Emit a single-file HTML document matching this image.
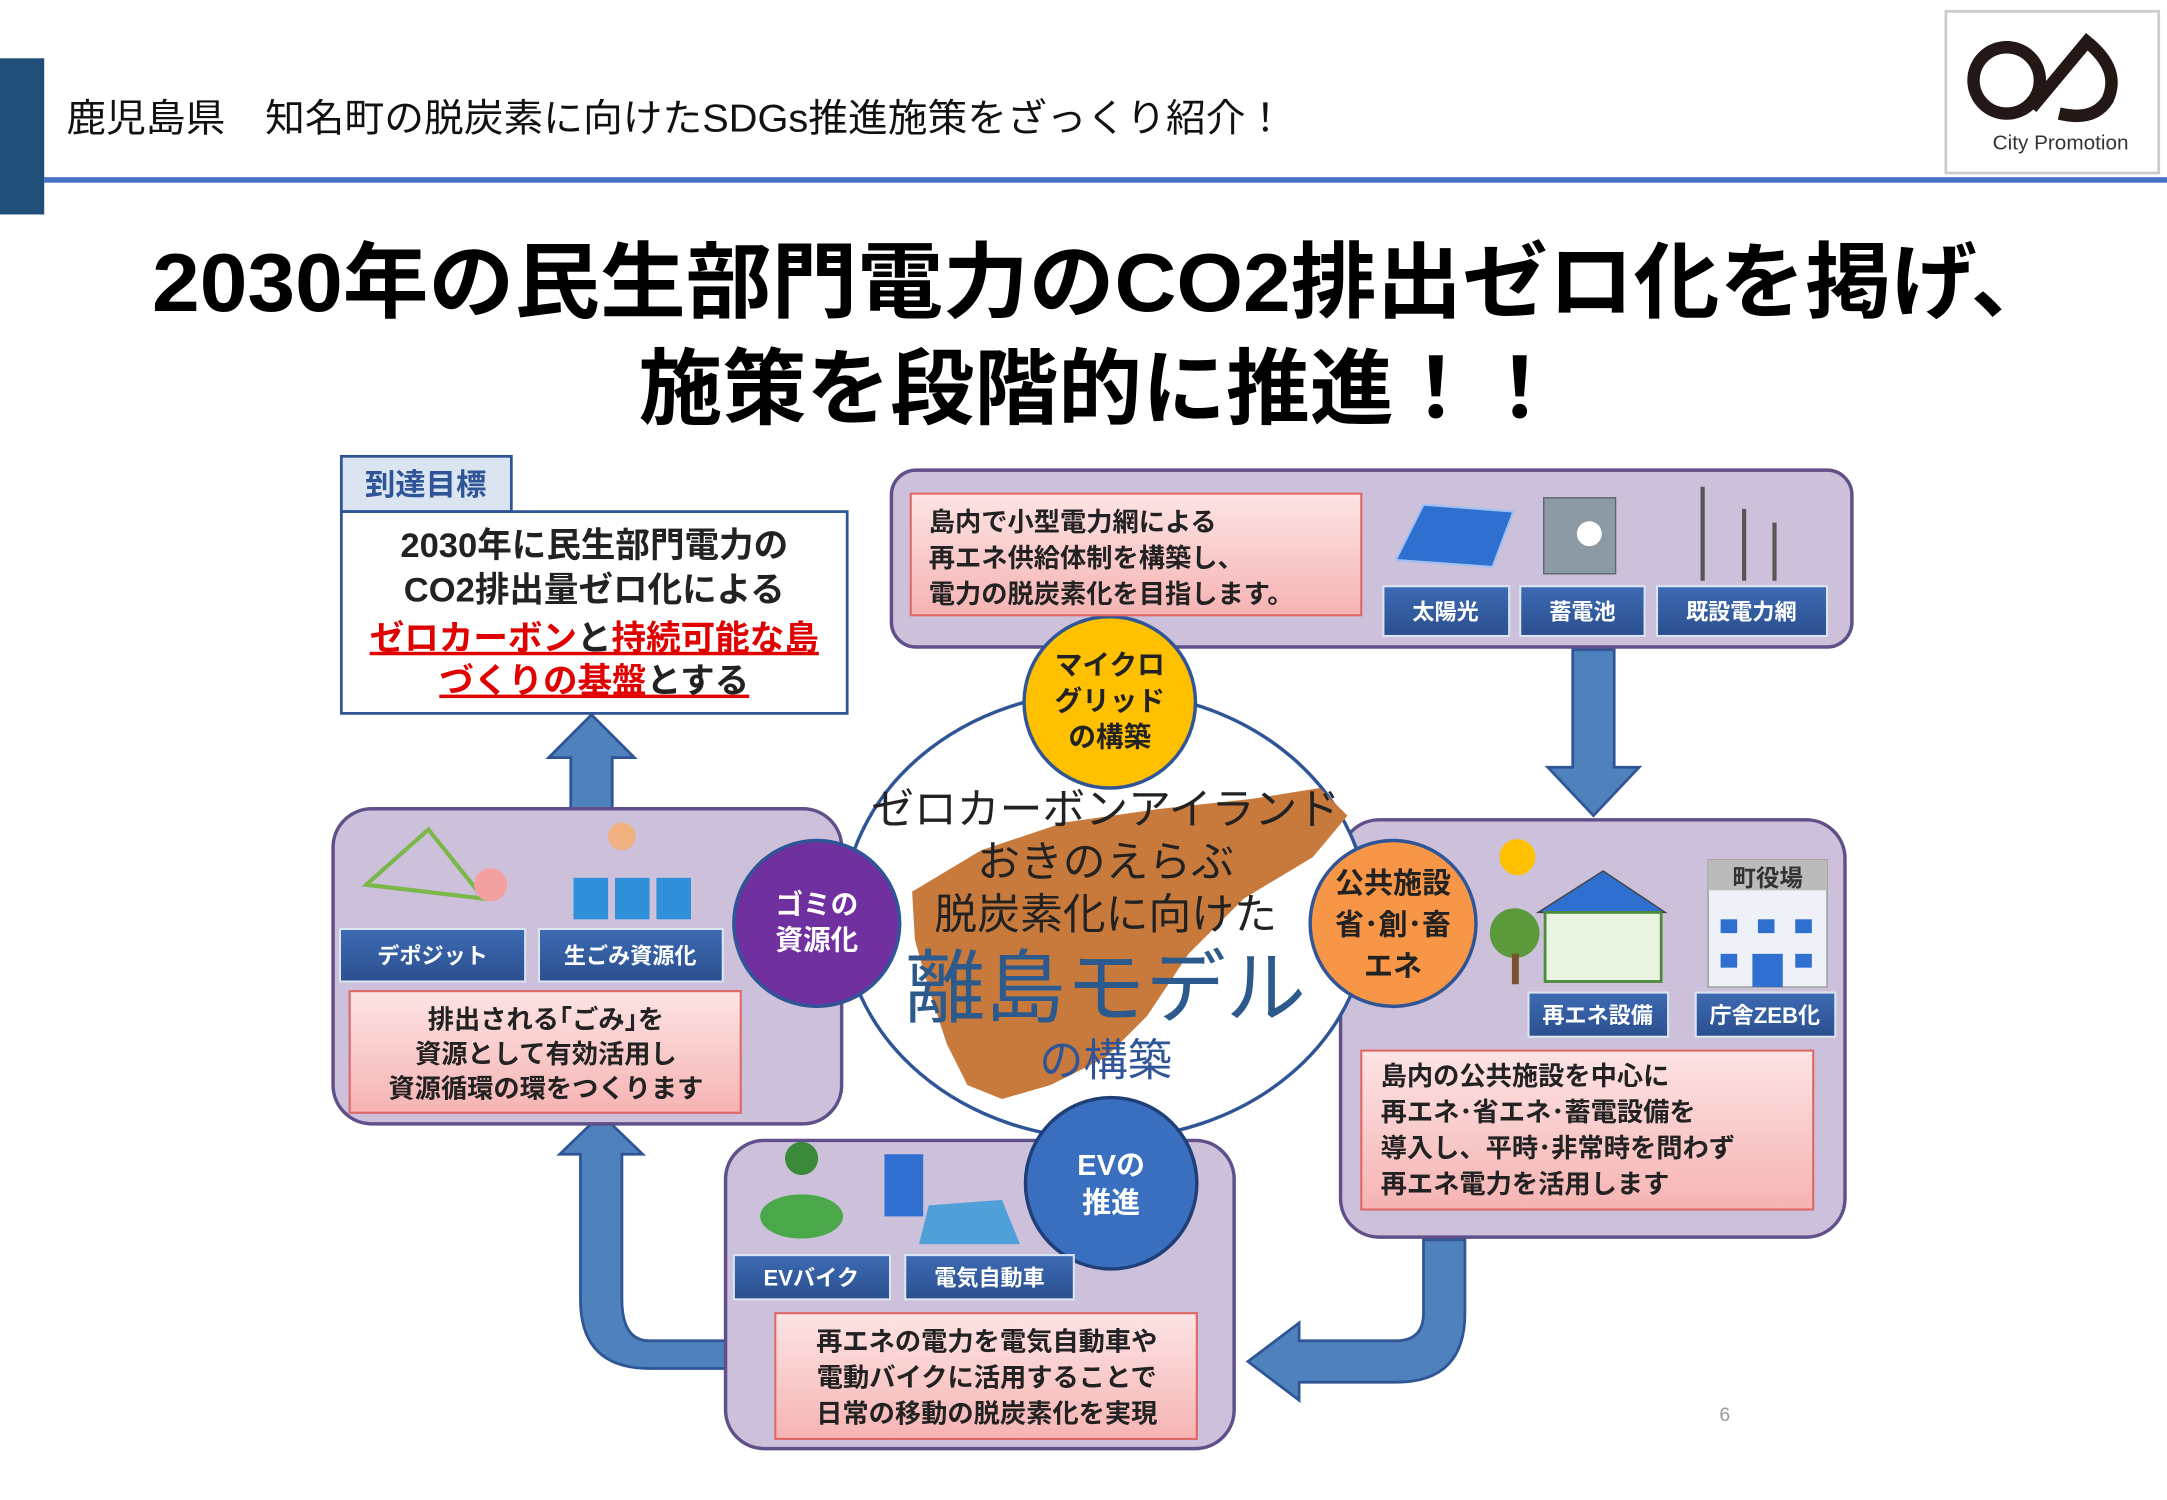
<!DOCTYPE html>
<html><head><meta charset="utf-8"><style>
html,body{margin:0;padding:0;background:#fff;width:2167px;height:1500px;overflow:hidden}
svg{display:block}
text{font-family:"Liberation Sans","Noto Sans CJK JP",sans-serif}
</style></head><body>
<svg width="2167" height="1500" viewBox="0 0 1568 1085" xmlns="http://www.w3.org/2000/svg">
<defs>
<linearGradient id="pk" x1="0" y1="0" x2="0" y2="1"><stop offset="0" stop-color="#fde4e4"/><stop offset="1" stop-color="#f6b3b3"/></linearGradient>
<linearGradient id="lb" x1="0" y1="0" x2="0" y2="1"><stop offset="0" stop-color="#3e6bb4"/><stop offset="1" stop-color="#2a4f8e"/></linearGradient>
</defs>
<rect width="1568" height="1085" fill="#fff"/>
<rect x="0" y="42" width="32" height="113" fill="#1f4e79"/>
<rect x="32" y="128" width="1536" height="4" fill="#4472c4"/>
<text x="48" y="95" font-size="28" fill="#111" textLength="882" lengthAdjust="spacingAndGlyphs">鹿児島県　知名町の脱炭素に向けたSDGs推進施策をざっくり紹介！</text>
<rect x="1408" y="8" width="154" height="117" fill="#fff" stroke="#ccc" stroke-width="2"/>
<circle cx="1452" cy="58" r="24" fill="none" stroke="#231815" stroke-width="9"/>
<path d="M1470 78 L1510 30 Q1535 50 1525 72 Q1515 88 1490 82" fill="none" stroke="#231815" stroke-width="9"/>
<text x="1491" y="108" font-size="15" fill="#333" text-anchor="middle">City Promotion</text>
<text x="110" y="225" font-size="60" font-weight="bold" fill="#000" textLength="1378" lengthAdjust="spacingAndGlyphs">2030年の民生部門電力のCO2排出ゼロ化を掲げ、</text>
<text x="462" y="302" font-size="60" font-weight="bold" fill="#000" textLength="668" lengthAdjust="spacingAndGlyphs">施策を段階的に推進！！</text>
<rect x="247" y="330" width="123" height="40" fill="#dbe5f1" stroke="#2f5597" stroke-width="2"/>
<text x="308" y="358" font-size="22" font-weight="bold" fill="#2f5597" text-anchor="middle">到達目標</text>
<rect x="247" y="370" width="366" height="146" fill="#fff" stroke="#2f5597" stroke-width="2"/>
<g font-size="25" font-weight="bold" text-anchor="middle">
<text x="430" y="403" fill="#222">2030年に民生部門電力の</text>
<text x="430" y="435" fill="#222">CO2排出量ゼロ化による</text>
<text x="430" y="470" fill="#e00000" text-decoration="underline">ゼロカーボン<tspan fill="#222">と</tspan>持続可能な島</text>
<text x="430" y="501" fill="#e00000" text-decoration="underline">づくりの基盤<tspan fill="#222">とする</tspan></text>
</g>
<g fill="#4f81bd" stroke="#2f5597" stroke-width="2">
<path d="M413 585 L413 548 L397 548 L428 517 L459 548 L443 548 L443 585 Z"/>
<path d="M1138 470 L1168 470 L1168 555 L1186 555 L1153 590 L1120 555 L1138 555 Z"/>
<path d="M1030 897 L1060 897 L1060 950 Q1060 1000 1010 1000 L940 1000 L940 1013 L903 985 L940 957 L940 970 L1010 970 Q1030 970 1030 950 Z"/>
<path d="M525 970 L525 990 L470 990 Q420 990 420 940 L420 835 L405 835 L435 806 L465 835 L450 835 L450 940 Q450 970 470 970 Z"/>
</g>
<g fill="#ccc0da" stroke="#5f5089" stroke-width="2.5">
<rect x="645" y="340" width="695" height="128" rx="18"/>
<rect x="970" y="593" width="365" height="302" rx="28"/>
<rect x="525" y="825" width="368" height="223" rx="28"/>
<rect x="241" y="585" width="368" height="228" rx="28"/>
</g>
<ellipse cx="800" cy="662" rx="190" ry="162" fill="#fff" stroke="#2f5597" stroke-width="2.5"/>
<path d="M660 645 L710 615 L770 595 L840 585 L905 578 L955 570 L975 590 L950 620 L900 650 L860 690 L830 735 L800 765 L760 785 L725 795 L700 785 L685 755 L672 715 L662 680 Z" fill="#c77a3c"/>
<g text-anchor="middle" fill="#222">
<text x="800" y="596" font-size="31">ゼロカーボンアイランド</text>
<text x="800" y="634" font-size="31">おきのえらぶ</text>
<text x="800" y="672" font-size="31">脱炭素化に向けた</text>
<text x="800" y="735" font-size="58" fill="#2c5a8c">離島モデル</text>
<text x="800" y="778" font-size="32" fill="#2f5597">の構築</text>
</g>
<circle cx="803" cy="508" r="62" fill="#ffc000" stroke="#2f5597" stroke-width="2.5"/>
<g font-size="20" font-weight="bold" text-anchor="middle" fill="#222"><text x="803" y="488">マイクロ</text><text x="803" y="514">グリッド</text><text x="803" y="540">の構築</text></g>
<circle cx="591" cy="668" r="60" fill="#7030a0" stroke="#2f5597" stroke-width="2.5"/>
<g font-size="20" font-weight="bold" text-anchor="middle" fill="#fff"><text x="591" y="661">ゴミの</text><text x="591" y="687">資源化</text></g>
<circle cx="1008" cy="668" r="60" fill="#f79646" stroke="#2f5597" stroke-width="2.5"/>
<g font-size="21" font-weight="bold" text-anchor="middle" fill="#222"><text x="1008" y="646">公共施設</text><text x="1008" y="676">省･創･畜</text><text x="1008" y="706">エネ</text></g>
<circle cx="804" cy="856" r="62" fill="#3a6fbf" stroke="#1f3f78" stroke-width="2.5"/>
<g font-size="21" font-weight="bold" text-anchor="middle" fill="#fff"><text x="804" y="850">EVの</text><text x="804" y="877">推進</text></g>
<g fill="url(#pk)" stroke="#e06666" stroke-width="1.5">
<rect x="659" y="357" width="326" height="88"/>
<rect x="985" y="760" width="327" height="115"/>
<rect x="561" y="950" width="305" height="91"/>
<rect x="253" y="717" width="283" height="88"/>
</g>
<g font-size="19" font-weight="bold" fill="#222">
<text x="672" y="384">島内で小型電力網による</text><text x="672" y="410">再エネ供給体制を構築し、</text><text x="672" y="436">電力の脱炭素化を目指します。</text>
<text x="999" y="785">島内の公共施設を中心に</text><text x="999" y="811">再エネ･省エネ･蓄電設備を</text><text x="999" y="837">導入し、平時･非常時を問わず</text><text x="999" y="863">再エネ電力を活用します</text>
</g>
<g font-size="19" font-weight="bold" fill="#222" text-anchor="middle">
<text x="714" y="977">再エネの電力を電気自動車や</text><text x="714" y="1003">電動バイクに活用することで</text><text x="714" y="1029">日常の移動の脱炭素化を実現</text>
<text x="395" y="744">排出される｢ごみ｣を</text><text x="395" y="769">資源として有効活用し</text><text x="395" y="794">資源循環の環をつくります</text>
</g>
<g fill="url(#lb)" stroke="#dbe5f1" stroke-width="1.5">
<rect x="1001" y="424" width="91" height="36"/><rect x="1100" y="424" width="90" height="36"/><rect x="1199" y="424" width="123" height="36"/>
<rect x="1106" y="718" width="101" height="32"/><rect x="1227" y="718" width="101" height="32"/>
<rect x="531" y="908" width="113" height="32"/><rect x="655" y="908" width="122" height="32"/>
<rect x="246" y="672" width="134" height="38"/><rect x="390" y="672" width="133" height="38"/>
</g>
<g font-size="16" fill="#fff" text-anchor="middle" font-weight="bold">
<text x="1046" y="448">太陽光</text><text x="1145" y="448">蓄電池</text><text x="1260" y="448">既設電力網</text>
<text x="1156" y="740">再エネ設備</text><text x="1277" y="740">庁舎ZEB化</text>
<text x="587" y="930">EVバイク</text><text x="716" y="930">電気自動車</text>
<text x="313" y="697">デポジット</text><text x="456" y="697">生ごみ資源化</text>
</g>
<g>
<path d="M1010 405 L1030 365 L1095 370 L1080 410 Z" fill="#2f6fd0" stroke="#9ec0f0" stroke-width="1.5"/>
<rect x="1117" y="360" width="52" height="55" fill="#8c9aa5" stroke="#5c6770"/>
<circle cx="1150" cy="386" r="9" fill="#fff"/>
<g stroke="#555" stroke-width="3"><line x1="1232" y1="352" x2="1232" y2="420"/><line x1="1262" y1="368" x2="1262" y2="420"/><line x1="1284" y1="378" x2="1284" y2="420"/></g>
<circle cx="1098" cy="620" r="13" fill="#ffc000"/>
<path d="M1113 660 L1160 630 L1205 660 Z" fill="#2f6fd0" stroke="#444"/>
<rect x="1118" y="660" width="84" height="50" fill="#e8f4e0" stroke="#4a8a3a" stroke-width="2"/>
<circle cx="1096" cy="675" r="18" fill="#5a9a3a"/><rect x="1094" y="690" width="5" height="22" fill="#7a5030"/>
<rect x="1236" y="622" width="86" height="92" fill="#eef2f8" stroke="#999"/>
<rect x="1236" y="622" width="86" height="22" fill="#bbb"/>
<text x="1279" y="641" font-size="17" font-weight="bold" fill="#333" text-anchor="middle">町役場</text>
<g fill="#2f6fd0"><rect x="1245" y="665" width="12" height="10"/><rect x="1272" y="665" width="12" height="10"/><rect x="1299" y="665" width="12" height="10"/><rect x="1245" y="690" width="12" height="10"/><rect x="1299" y="690" width="12" height="10"/><rect x="1268" y="690" width="22" height="24"/></g>
<ellipse cx="580" cy="880" rx="30" ry="16" fill="#4aa84a"/><circle cx="580" cy="838" r="12" fill="#3a8a3a"/>
<rect x="640" y="835" width="28" height="45" fill="#2f6fd0"/>
<path d="M665 900 L672 872 L725 868 L738 900 Z" fill="#4f9fd8"/>
<path d="M265 640 L310 600 L350 650 Z" fill="none" stroke="#7ab648" stroke-width="3"/>
<circle cx="355" cy="640" r="12" fill="#f3a0a0"/>
<g fill="#2f8fd8"><rect x="415" y="635" width="25" height="30"/><rect x="445" y="635" width="25" height="30"/><rect x="475" y="635" width="25" height="30"/></g>
<circle cx="450" cy="605" r="10" fill="#f0b080"/>
</g>
<text x="1248" y="1028" font-size="14" fill="#999" text-anchor="middle">6</text>
</svg>
</body></html>
